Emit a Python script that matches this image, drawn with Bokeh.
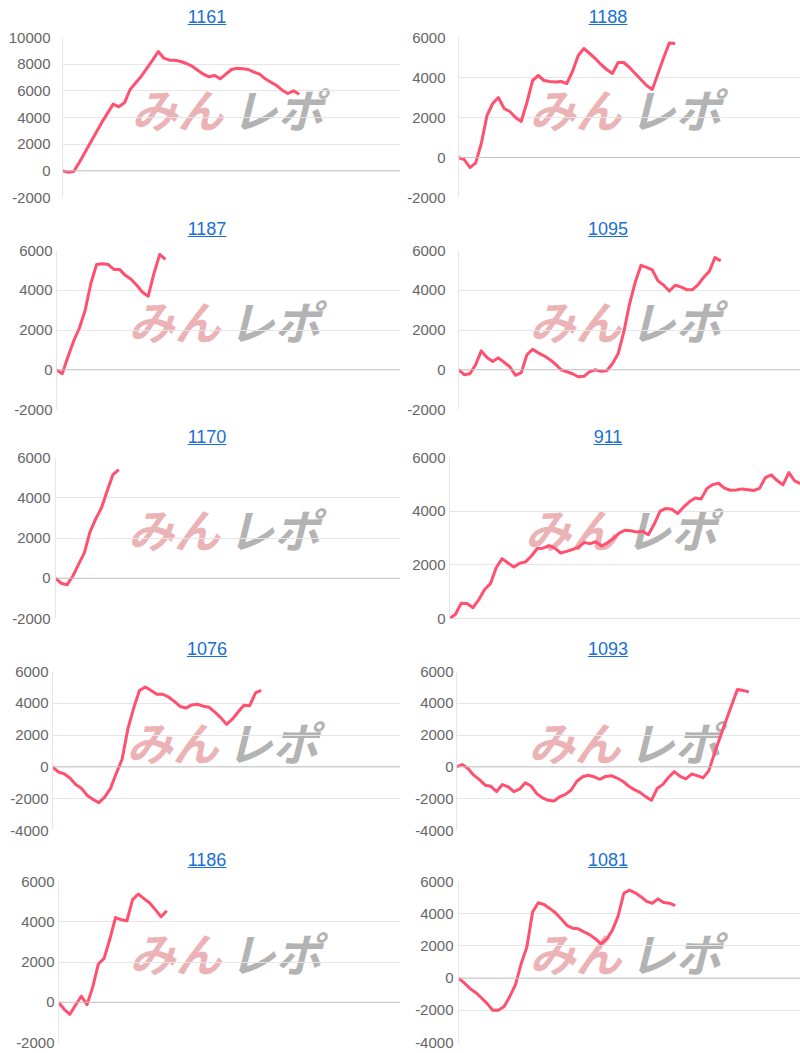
from bokeh.plotting import figure
from bokeh.layouts import column, row
from bokeh.models import Range1d, FixedTicker, Span, Div, CustomJSTickFormatter
from bokeh.core.properties import value
from bokeh.embed import file_html
from bokeh.resources import INLINE

# ---------------- data ----------------
titles = ["1161", "1188", "1187", "1095", "1170", "911", "1076", "1093", "1186", "1081"]

s1161 = [0, -100, -50, 650, 1400, 2150, 2900, 3650, 4325, 5000, 4800, 5100, 6100, 6600, 7100,
         7700, 8300, 8950, 8450, 8300, 8300, 8200, 8050, 7850, 7550, 7250, 7050, 7150, 6900,
         7250, 7600, 7700, 7650, 7600, 7400, 7250, 6900, 6650, 6400, 6050, 5800, 6000, 5750]
s1188 = [0, -100, -500, -280, 700, 2100, 2700, 3000, 2450, 2300, 2000, 1800, 2750, 3850, 4100,
         3850, 3800, 3780, 3800, 3700, 4300, 5100, 5450, 5200, 4950, 4650, 4400, 4200, 4750,
         4750, 4500, 4200, 3900, 3600, 3400, 4200, 5000, 5730, 5700]
s1187 = [0, -200, 650, 1450, 2100, 3000, 4350, 5300, 5330, 5300, 5050, 5050, 4750, 4550, 4250,
         3900, 3700, 4850, 5800, 5550]
s1095 = [0, -250, -200, 250, 950, 620, 420, 600, 380, 150, -280, -150, 750, 1030, 850, 700, 520,
         280, 0, -100, -200, -350, -330, -100, 0, -80, -50, 300, 800, 1900, 3300, 4400, 5250,
         5150, 5020, 4470, 4250, 3960, 4250, 4170, 4030, 4020, 4270, 4640, 4950, 5650, 5480]
s1170 = [0, -250, -330, 100, 690, 1250, 2300, 2950, 3500, 4350, 5150, 5400]
s911 = [0, 150, 570, 560, 400, 700, 1080, 1300, 1900, 2230, 2070, 1920, 2060, 2110, 2330, 2610,
        2620, 2720, 2620, 2440, 2500, 2570, 2650, 2830, 2790, 2860, 2700, 2820, 2980, 3180, 3290,
        3270, 3220, 3250, 3120, 3520, 4000, 4100, 4070, 3910, 4150, 4350, 4490, 4450, 4840, 4990,
        5040, 4860, 4780, 4790, 4830, 4800, 4770, 4850, 5250, 5350, 5140, 4980, 5440, 5130, 5030]
s1076 = [0, -320, -430, -700, -1100, -1350, -1800, -2050, -2250, -1900, -1350, -400, 480, 2400,
         3700, 4800, 5020, 4800, 4570, 4570, 4400, 4120, 3800, 3700, 3900, 3940, 3820, 3750, 3450,
         3100, 2680, 3000, 3450, 3880, 3850, 4650, 4820]
s1093 = [0, 150, -100, -520, -800, -1150, -1220, -1550, -1110, -1250, -1550, -1400, -1000, -1200,
         -1680, -1950, -2100, -2150, -1880, -1730, -1450, -900, -620, -530, -620, -780, -600, -550,
         -700, -900, -1200, -1430, -1600, -1870, -2100, -1360, -1100, -650, -300, -600, -750, -450,
         -550, -690, -250, 860, 1900, 2900, 3900, 4870, 4800, 4720]
s1186 = [0, -350, -600, -140, 300, -120, 750, 1900, 2180, 3130, 4210, 4100, 4050, 5100, 5380, 5150,
         4930, 4600, 4250, 4550]
s1081 = [0, -300, -640, -890, -1220, -1570, -2000, -1990, -1760, -1140, -400, 900, 1950, 4100, 4680,
         4570, 4330, 4060, 3680, 3280, 3100, 3060, 2870, 2700, 2450, 2120, 2430, 2980, 3850, 5270,
         5460, 5300, 5060, 4770, 4650, 4920, 4690, 4650, 4500]

series = [s1161, s1188, s1187, s1095, s1170, s911, s1076, s1093, s1186, s1081]
y_min = [-2000, -2000, -2000, -2000, -2000, 0, -4000, -4000, -2000, -4000]
y_max = [10000, 6000, 6000, 6000, 6000, 6000, 6000, 6000, 6000, 6000]
y_step = 2000
x_max = 60

# ---------------- style / layout ----------------
LINE_COLOR = "#ff5070"
TITLE_COLOR = "#1a6fd1"
LABEL_COLOR = "#666666"
GRID_COLOR = "#e6e6e6"
ZERO_COLOR = "#c4c4c4"
CELL_W = 400
border_left = [62, 58, 56, 58, 55, 49, 52, 56, 58, 58]
label_gap = [12, 13, 4, 13, 5, 4, 4, 3, 4, 5]
row_div_pad = [8, 0, 0, 0, 0]
row_frame_h = [160, 159, 161, 159, 161]
row_border_top = [7, 8, 7, 9, 8]
row_border_bottom = [23, 19, 22, 21, 10]
title_pad = [14, 16]


def make_cell(i):
    r, c = divmod(i, 2)
    fh = row_frame_h[r]
    bt = row_border_top[r]
    bb = row_border_bottom[r]
    fig_h = fh + bt + bb
    y0, y1 = y_min[i], y_max[i]
    ticks = list(range(y0, y1 + 1, y_step))

    p = figure(width=CELL_W, height=fig_h, output_backend="svg", toolbar_location=None,
               x_axis_location=None, x_range=Range1d(0, x_max), y_range=Range1d(y0, y1),
               min_border_left=border_left[i], min_border_right=0,
               min_border_top=bt, min_border_bottom=bb)
    p.outline_line_color = None
    p.background_fill_color = "white"
    p.border_fill_color = "white"
    p.xgrid.visible = False
    p.ygrid.grid_line_color = GRID_COLOR
    p.ygrid.ticker = FixedTicker(ticks=ticks)

    ax = p.yaxis[0]
    ax.ticker = FixedTicker(ticks=ticks)
    ax.formatter = CustomJSTickFormatter(code="return String(Math.round(tick));")
    ax.axis_line_color = GRID_COLOR
    ax.major_tick_line_color = None
    ax.minor_tick_line_color = None
    ax.major_tick_out = 0
    ax.major_tick_in = 0
    ax.major_label_standoff = label_gap[i]
    ax.major_label_text_color = LABEL_COLOR
    ax.major_label_text_font = "Liberation Sans"
    ax.major_label_text_font_size = "15px"

    p.add_layout(Span(location=0, dimension="width", line_color=ZERO_COLOR, line_width=1))

    # watermark
    frame_w = CELL_W - border_left[i]
    ym = (y0 + y1) / 2 + 10 * (y1 - y0) / fh
    xm = x_max / 2
    gap = 8 * x_max / frame_w
    p.text(x=[xm - gap], y=[ym], text=["みん"], text_align="right", text_baseline="middle",
           text_font=value("Noto Sans CJK JP"), text_font_size="46px", text_font_style="bold italic",
           text_color="#ebb3b6", level="image")
    p.text(x=[xm], y=[ym], text=["レポ"], text_align="left", text_baseline="middle",
           text_font=value("Noto Sans CJK JP"), text_font_size="46px", text_font_style="bold italic",
           text_color="#b3b3b3", level="image")

    ys = series[i]
    p.line(x=list(range(len(ys))), y=ys, line_color=LINE_COLOR, line_width=3, line_join="round")

    pad_top = row_div_pad[r]
    html = ('<div style="width:%dpx;box-sizing:border-box;padding-left:%dpx;padding-top:%dpx;'
            'text-align:center;font-family:\'Liberation Sans\',Arial,sans-serif;font-size:18px;'
            'line-height:18px;"><span style="color:%s;text-decoration:underline;">%s</span></div>'
            % (CELL_W, title_pad[c], pad_top, TITLE_COLOR, titles[i]))
    d = Div(text=html, width=CELL_W, height=22 + pad_top, margin=(0, 0, 0, 0))
    return column(d, p, spacing=0)


rows = []
for r in range(5):
    rows.append(row(make_cell(2 * r), make_cell(2 * r + 1), spacing=0))
layout = column(*rows, spacing=0)

open("out.html", "w").write(file_html(layout, INLINE))
